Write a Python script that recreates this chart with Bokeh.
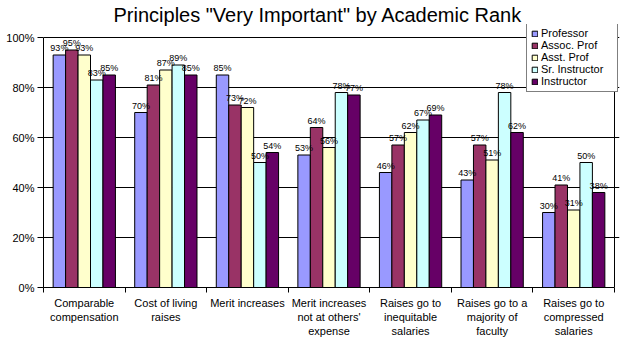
from bokeh.plotting import figure
from bokeh.models import (Range1d, FixedTicker, Legend, LegendItem, BoxAnnotation,
                          ColumnDataSource)
from bokeh.embed import file_html
from bokeh.resources import INLINE

categories = ["Comparable\ncompensation", "Cost of living\nraises", "Merit increases",
              "Merit increases\nnot at others'\nexpense", "Raises go to\ninequitable\nsalaries",
              "Raises go to a\nmajority of\nfaculty", "Raises go to\ncompressed\nsalaries"]
series = ["Professor", "Assoc. Prof", "Asst. Prof", "Sr. Instructor", "Instructor"]
professor = [93, 70, 85, 53, 46, 43, 30]
assoc_prof = [95, 81, 73, 64, 57, 57, 41]
asst_prof = [93, 87, 72, 56, 62, 51, 31]
sr_instructor = [83, 89, 50, 78, 67, 78, 50]
instructor = [85, 85, 54, 77, 69, 62, 38]
y_ticks = [0, 20, 40, 60, 80, 100]
colors = ["#9999FF", "#993366", "#FFFFCC", "#CCFFFF", "#660066"]

values = [professor, assoc_prof, asst_prof, sr_instructor, instructor]
FONT = "Liberation Sans"
n_cat = len(categories)
bar_w = 0.1527

# frame: x 43..619, y 24..287 ; data box x 0..7 -> 43..614, y 0..100 -> 287..37
x_end = n_cat * (619 - 43) / (614 - 43)
y_end = 100 * (287 - 24) / (287 - 37)

p = figure(width=624, height=349, output_backend="svg", toolbar_location=None,
           x_range=Range1d(0, x_end), y_range=Range1d(0, y_end),
           min_border_left=43, min_border_right=5, min_border_top=24, min_border_bottom=62)
p.background_fill_color = "white"
p.border_fill_color = "white"
p.outline_line_color = None

p.title.text = 'Principles "Very Important" by Academic Rank'
p.title.align = "left"
p.title.text_font = FONT
p.title.text_font_size = "20px"
p.title.text_font_style = "normal"
p.title.text_color = "black"
p.title.offset = 70
p.title.standoff = -2

renderers = []
lab_x, lab_y, lab_t = [], [], []
for j, (name, vals, col) in enumerate(zip(series, values, colors)):
    xs = [i + 0.5 + (j - 2) * bar_w for i in range(n_cat)]
    src = ColumnDataSource(dict(x=xs, top=vals))
    r = p.vbar(x="x", top="top", width=bar_w, source=src, fill_color=col,
               line_color="black", line_width=1)
    renderers.append(r)
    lab_x += xs
    lab_y += vals
    lab_t += [f"{v}%" for v in vals]

p.text(x=lab_x, y=lab_y, text=lab_t, text_align="center", text_baseline="bottom",
       y_offset=-2, text_font_size="9px", text_font={"value": FONT}, text_color="black")

# right edge of the plot area
p.segment(x0=[n_cat], y0=[0], x1=[n_cat], y1=[100], line_color="black", line_width=1)

# axes
p.xgrid.visible = False
p.ygrid.ticker = FixedTicker(ticks=y_ticks)
p.ygrid.grid_line_color = "black"
p.ygrid.grid_line_alpha = 1
p.ygrid.bounds = (0, n_cat)

xa = p.xaxis[0]
xa.bounds = (0, n_cat)
xa.ticker = FixedTicker(ticks=[i + 0.5 for i in range(n_cat)], minor_ticks=list(range(n_cat + 1)))
xa.major_label_overrides = {i + 0.5: c for i, c in enumerate(categories)}
xa.major_tick_out = 0
xa.major_tick_in = 0
xa.minor_tick_out = 5
xa.minor_tick_in = 0
xa.minor_tick_line_color = "black"
xa.axis_line_color = "black"
xa.major_label_text_font = FONT
xa.major_label_text_font_size = "11px"
xa.major_label_text_color = "black"
xa.major_label_text_line_height = 1.2
xa.major_label_standoff = 4

ya = p.yaxis[0]
ya.bounds = (0, 100)
ya.ticker = FixedTicker(ticks=y_ticks)
ya.major_label_overrides = {t: f"{t}%" for t in y_ticks}
ya.major_tick_out = 6
ya.major_tick_in = 0
ya.minor_tick_out = 0
ya.minor_tick_in = 0
ya.major_tick_line_color = "black"
ya.axis_line_color = "black"
ya.major_label_text_font = FONT
ya.major_label_text_font_size = "11px"
ya.major_label_text_color = "black"
ya.major_label_standoff = 3

legend = Legend(items=[LegendItem(label=s, renderers=[r]) for s, r in zip(series, renderers)],
                location=(483, 195))
legend.label_text_font = FONT
legend.label_text_font_size = "11px"
legend.label_text_color = "black"
legend.label_text_line_height = 1.0
legend.glyph_width = 7
legend.glyph_height = 7
legend.label_height = 9
legend.label_width = 72
legend.label_standoff = 3
legend.spacing = 0
legend.padding = 4
legend.margin = 0
legend.border_line_color = "black"
legend.border_line_width = 1
legend.background_fill_color = "white"
legend.background_fill_alpha = 1
p.add_layout(legend)

border = BoxAnnotation(left=0.5, right=622.5, top=0.5, bottom=347.5,
                       left_units="canvas", right_units="canvas",
                       top_units="canvas", bottom_units="canvas",
                       fill_alpha=0, line_color="black", line_width=1)
p.add_layout(border)

open("out.html", "w").write(file_html(p, INLINE))
